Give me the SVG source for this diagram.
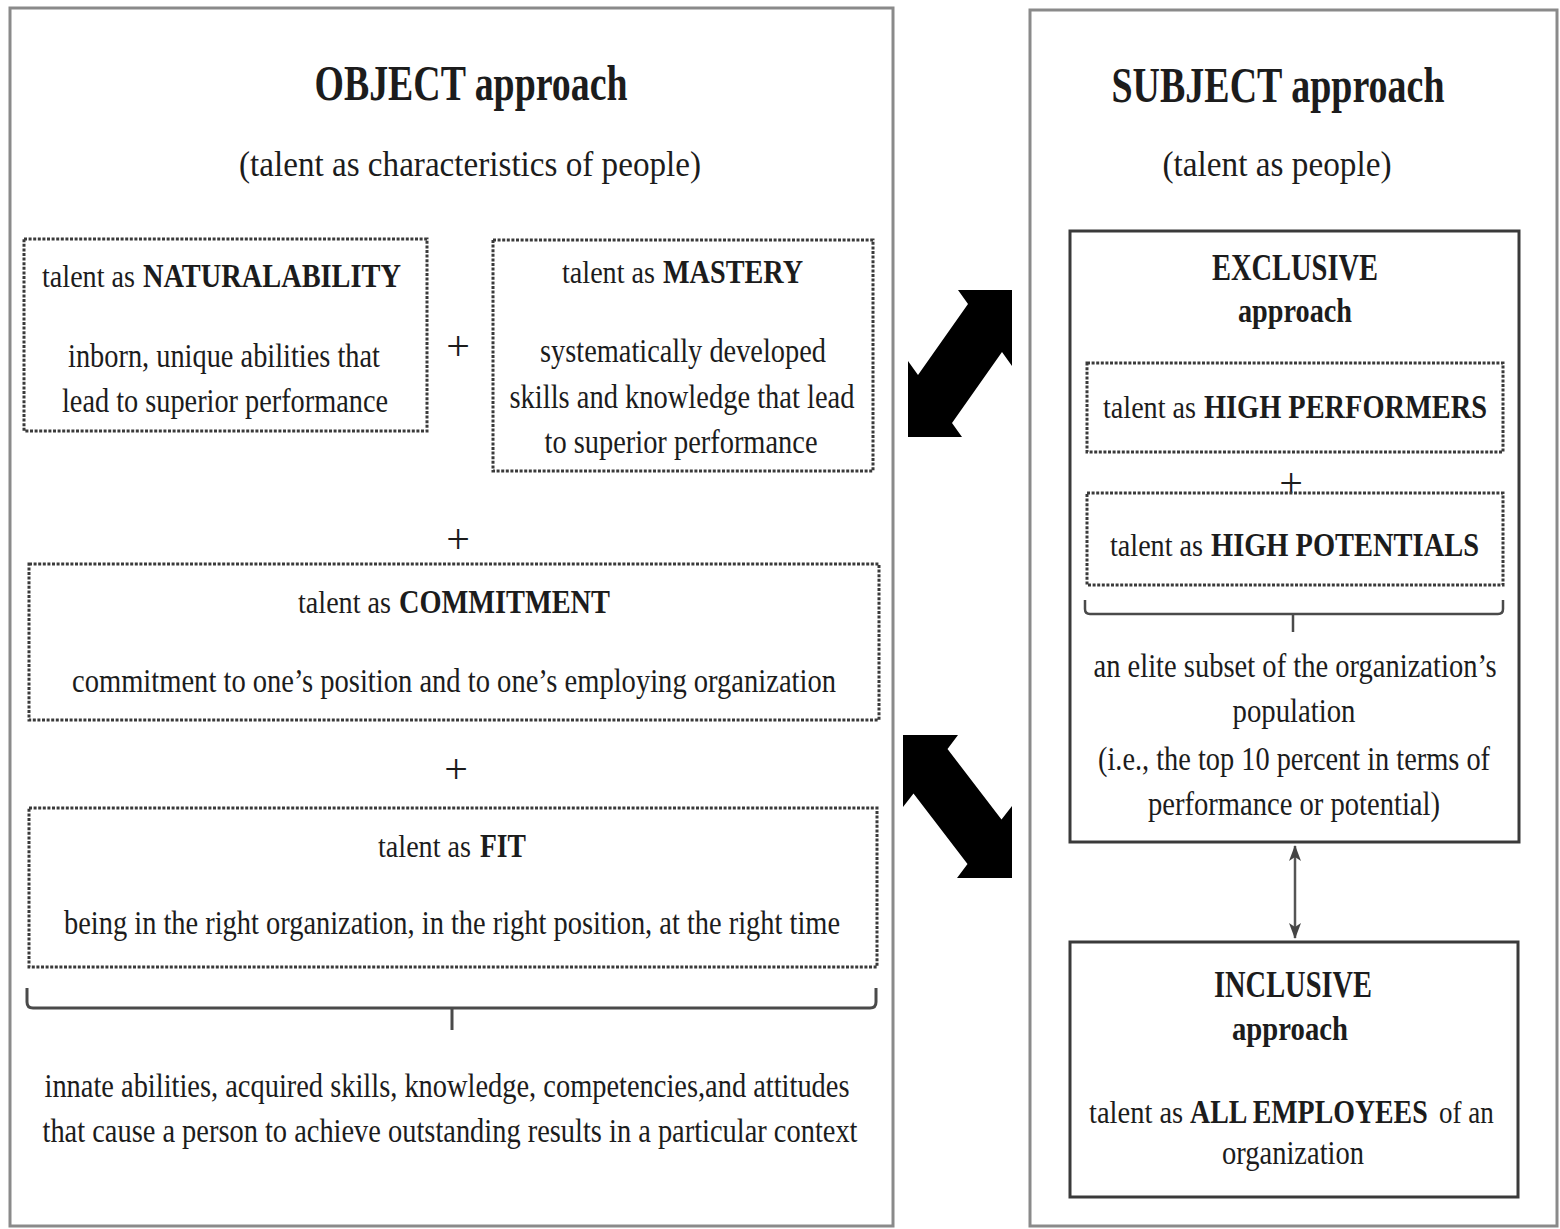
<svg xmlns="http://www.w3.org/2000/svg" width="1560" height="1229" viewBox="0 0 1560 1229">
<style>
.outer{fill:#fff;stroke:#8a8a8a;stroke-width:3}
.dot{fill:none;stroke:#3a3a3a;stroke-width:3;stroke-dasharray:3 1.6}
.solid{fill:none;stroke:#3a3a3a;stroke-width:3}
text{font-family:"Liberation Serif","Times New Roman",serif;fill:#1c1c1c;text-anchor:middle}
.s{text-anchor:start}
.title{font-size:50px;font-weight:bold}
.sub{font-size:35px}
.h{font-size:31px}
.hb{font-size:33px;font-weight:bold}
.body{font-size:33px}
.plus{font-size:42px}
.brace{fill:none;stroke:#4a4a4a;stroke-width:3}
.big{fill:#000}
.thin{stroke:#555;stroke-width:2.5;fill:none}
</style>
<defs>
<marker id="ah" viewBox="0 0 16 12" refX="15" refY="6" markerWidth="16" markerHeight="12" orient="auto-start-reverse" markerUnits="userSpaceOnUse">
<path d="M0,0 L16,6 L0,12 L4,6 z" fill="#444"/>
</marker>
</defs>
<rect width="1560" height="1229" fill="#fff"/>

<g id="object-approach">
<rect class="outer" x="10" y="8" width="883" height="1218"/>
<text class="title" x="471" y="100" textLength="313" lengthAdjust="spacingAndGlyphs">OBJECT approach</text>
<text class="sub" x="470" y="176" textLength="462" lengthAdjust="spacingAndGlyphs">(talent as characteristics of people)</text>
</g>

<g id="natural-ability">
<rect class="dot" x="24" y="239" width="403" height="192"/>
<text class="h s" x="42" y="287" textLength="93" lengthAdjust="spacingAndGlyphs">talent as</text>
<text class="hb s" x="143" y="287" textLength="258" lengthAdjust="spacingAndGlyphs">NATURALABILITY</text>
<text class="body" x="224" y="367" textLength="312" lengthAdjust="spacingAndGlyphs">inborn, unique abilities that</text>
<text class="body" x="225" y="412" textLength="326" lengthAdjust="spacingAndGlyphs">lead to superior performance</text>
</g>

<text class="plus" x="458" y="360">+</text>

<g id="mastery">
<rect class="dot" x="493" y="240" width="380" height="231"/>
<text class="h s" x="562" y="283" textLength="93" lengthAdjust="spacingAndGlyphs">talent as</text>
<text class="hb s" x="663" y="283" textLength="140" lengthAdjust="spacingAndGlyphs">MASTERY</text>
<text class="body" x="683" y="362" textLength="286" lengthAdjust="spacingAndGlyphs">systematically developed</text>
<text class="body" x="682" y="408" textLength="345" lengthAdjust="spacingAndGlyphs">skills and knowledge that lead</text>
<text class="body" x="681" y="453" textLength="273" lengthAdjust="spacingAndGlyphs">to superior performance</text>
</g>

<text class="plus" x="458" y="553">+</text>

<g id="commitment">
<rect class="dot" x="29" y="564" width="850" height="156"/>
<text class="h s" x="298" y="613" textLength="93" lengthAdjust="spacingAndGlyphs">talent as</text>
<text class="hb s" x="399" y="613" textLength="211" lengthAdjust="spacingAndGlyphs">COMMITMENT</text>
<text class="body" x="454" y="692" textLength="764" lengthAdjust="spacingAndGlyphs">commitment to one’s position and to one’s employing organization</text>
</g>

<text class="plus" x="456" y="783">+</text>

<g id="fit">
<rect class="dot" x="29" y="808" width="848" height="159"/>
<text class="h s" x="378" y="857" textLength="93" lengthAdjust="spacingAndGlyphs">talent as</text>
<text class="hb s" x="480" y="857" textLength="46" lengthAdjust="spacingAndGlyphs">FIT</text>
<text class="body" x="452" y="934" textLength="776" lengthAdjust="spacingAndGlyphs">being in the right organization, in the right position, at the right time</text>
</g>

<g id="object-summary">
<path class="brace" d="M27,988 L27,1002 Q27,1008 33,1008 L870,1008 Q876,1008 876,1002 L876,988 M452,1008 L452,1030"/>
<text class="body" x="447" y="1097" textLength="805" lengthAdjust="spacingAndGlyphs">innate abilities, acquired skills, knowledge, competencies,and attitudes</text>
<text class="body" x="450" y="1142" textLength="815" lengthAdjust="spacingAndGlyphs">that cause a person to achieve outstanding results in a particular context</text>
</g>

<g id="subject-approach">
<rect class="outer" x="1030" y="10" width="527" height="1216"/>
<text class="title" x="1278" y="102" textLength="333" lengthAdjust="spacingAndGlyphs">SUBJECT approach</text>
<text class="sub" x="1277" y="176" textLength="229" lengthAdjust="spacingAndGlyphs">(talent as people)</text>
</g>

<g id="exclusive">
<rect class="solid" x="1070" y="231" width="449" height="611"/>
<text class="title" style="font-size:38px" x="1295" y="280" textLength="166" lengthAdjust="spacingAndGlyphs">EXCLUSIVE</text>
<text class="hb" x="1295" y="322" textLength="114" lengthAdjust="spacingAndGlyphs">approach</text>
</g>

<g id="high-performers">
<rect class="dot" x="1087" y="363" width="416" height="89"/>
<text class="h s" x="1103" y="418" textLength="93" lengthAdjust="spacingAndGlyphs">talent as</text>
<text class="hb s" x="1204" y="418" textLength="283" lengthAdjust="spacingAndGlyphs">HIGH PERFORMERS</text>
</g>

<text class="plus" x="1291" y="497">+</text>

<g id="high-potentials">
<rect class="dot" x="1087" y="493" width="416" height="92"/>
<text class="h s" x="1110" y="556" textLength="93" lengthAdjust="spacingAndGlyphs">talent as</text>
<text class="hb s" x="1211" y="556" textLength="268" lengthAdjust="spacingAndGlyphs">HIGH POTENTIALS</text>
</g>

<g id="exclusive-summary">
<path class="brace" style="stroke-width:2.5" d="M1085,600 L1085,609 Q1085,614 1090,614 L1498,614 Q1503,614 1503,609 L1503,600 M1293,614 L1293,632"/>
<text class="body" x="1295" y="677" textLength="403" lengthAdjust="spacingAndGlyphs">an elite subset of the organization’s</text>
<text class="body" x="1294" y="722" textLength="123" lengthAdjust="spacingAndGlyphs">population</text>
<text class="body" x="1294" y="770" textLength="392" lengthAdjust="spacingAndGlyphs">(i.e., the top 10 percent in terms of</text>
<text class="body" x="1294" y="815" textLength="292" lengthAdjust="spacingAndGlyphs">performance or potential)</text>
</g>

<g id="inclusive">
<rect class="solid" x="1070" y="942" width="448" height="255"/>
<text class="title" style="font-size:38px" x="1293" y="997" textLength="158" lengthAdjust="spacingAndGlyphs">INCLUSIVE</text>
<text class="hb" x="1290" y="1040" textLength="116" lengthAdjust="spacingAndGlyphs">approach</text>
<text class="h s" transform="translate(1089,1123) scale(0.92,1)">talent as</text>
<text class="hb s" transform="translate(1190,1123) scale(0.845,1)">ALL EMPLOYEES</text>
<text class="h s" transform="translate(1439,1123) scale(0.87,1)">of an</text>
<text class="body" x="1293" y="1164" textLength="142" lengthAdjust="spacingAndGlyphs">organization</text>
</g>

<g id="connectors">
<polygon class="big" points="1012,290 958,290 968,304 918,375 908,361 908,437 962,437 952,423 1002,352 1012,366"/>
<polygon class="big" points="903,735 958,735 947.5,749 1001.5,819.6 1012,806 1012,878 957,878 967.5,864 913.5,793.4 903,807"/>
<line class="thin" x1="1295" y1="846" x2="1295" y2="938" marker-start="url(#ah)" marker-end="url(#ah)"/>
</g>
</svg>
